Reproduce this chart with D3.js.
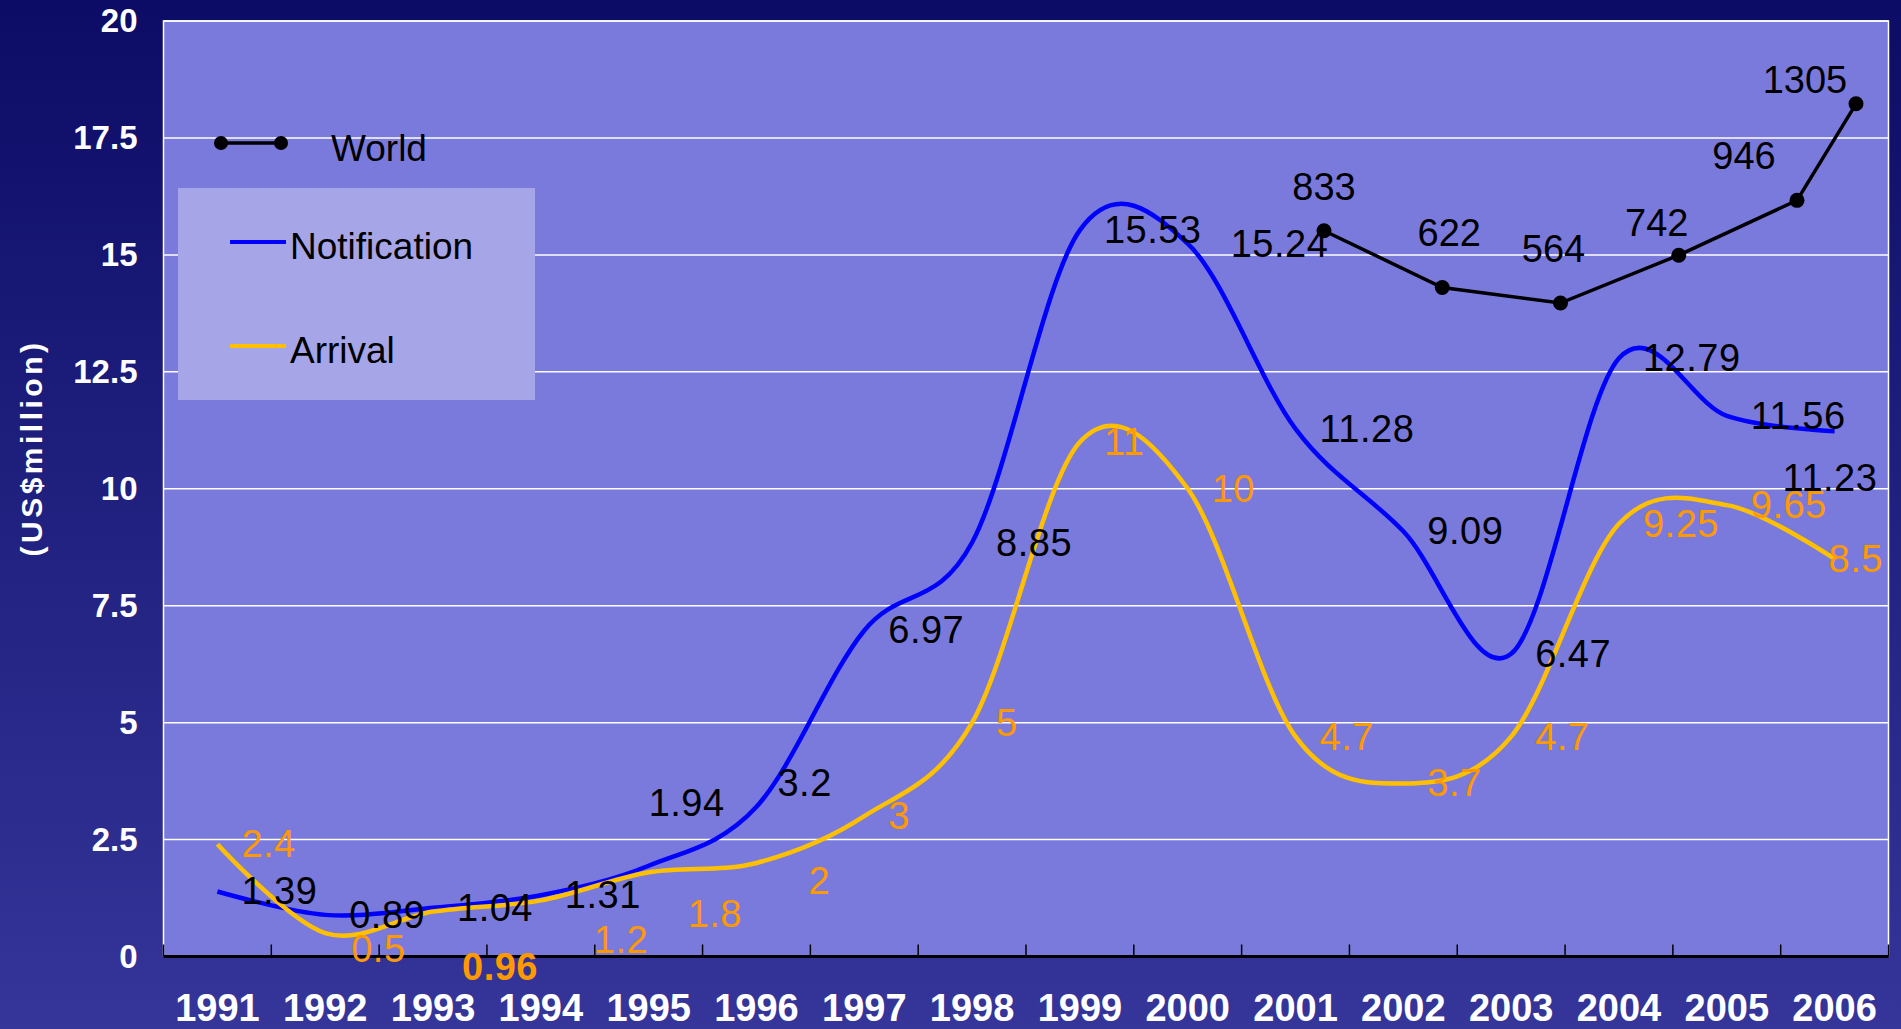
<!DOCTYPE html>
<html>
<head>
<meta charset="utf-8">
<script src="https://cdn.jsdelivr.net/npm/d3@7"></script>
<style>
html, body { margin: 0; padding: 0; overflow: hidden; background: #0c0c66; }
text { font-family: "Liberation Sans", Arial, sans-serif; }
</style>
</head>
<body>
<div id="chart"></div>
<script>
// Set up conventions
let width = 1901;
let height = 1029;
let plot = ({top: 21, right: 1888.5, bottom: 956.5, left: 163.5});

// data
let years = [1991, 1992, 1993, 1994, 1995, 1996, 1997, 1998, 1999, 2000, 2001, 2002, 2003, 2004, 2005, 2006];
let notification = [1.39, 0.89, 1.04, 1.31, 1.94, 3.2, 6.97, 8.85, 15.53, 15.24, 11.28, 9.09, 6.47, 12.79, 11.56, 11.23];
let arrival = [2.4, 0.5, 0.96, 1.2, 1.8, 2, 3, 5, 11, 10, 4.7, 3.7, 4.7, 9.25, 9.65, 8.5];
let worldYears = [2001, 2002, 2003, 2004, 2005, 2006];
let world = [833, 622, 564, 742, 946, 1305];
let yTicks = [0, 2.5, 5, 7.5, 10, 12.5, 15, 17.5, 20];

// hand placed labels in the original: offsets from the default spot
let notifNudge = {1995: [-24, -63], 1996: [-3, -24], 2000: [19, 0], 2006: [-76, 47]};
let arrivalNudge = {1992: [2, 16], 1993: [5, 55], 1994: [29, 40], 1995: [15, 42], 1996: [28, 18], 2006: [-30, 0]};
let worldNudge = {2002: [7, -10], 2003: [-7, -10], 2004: [-22, 12], 2005: [-53, 0], 2006: [-51, 20]};

let svg = d3.select("#chart")
    .append("svg")
    .attr("width", width)
    .attr("height", height);

let grad = svg.append("defs").append("linearGradient")
    .attr("id", "bg")
    .attr("x1", 0).attr("y1", 0).attr("x2", 0).attr("y2", 1);
grad.append("stop").attr("offset", "0%").attr("stop-color", "#0c0c66");
grad.append("stop").attr("offset", "100%").attr("stop-color", "#35359a");

svg.append("rect")
    .attr("width", width)
    .attr("height", height)
    .attr("fill", "url(#bg)");

// scales
let xScale = d3.scaleBand()
    .domain(years)
    .range([plot.left, plot.right]);
let cx = d => xScale(d) + xScale.bandwidth() / 2;

let yScale = d3.scaleLinear()
    .domain([0, 20])
    .range([plot.bottom, plot.top]);

// the World line was pasted on with its own spacing
let worldX = d3.scaleLinear()
    .domain([2001, 2005, 2006])
    .range([1324, 1797, 1856]);
let worldY = d3.scaleLinear()
    .domain([564, 1305])
    .range([yScale(13.97), yScale(18.23)]);

// plot area
svg.append("rect")
    .attr("x", plot.left)
    .attr("y", plot.top)
    .attr("width", plot.right - plot.left)
    .attr("height", plot.bottom - plot.top)
    .attr("fill", "#7a7adc");

svg.append("g")
    .selectAll("line")
    .data(yTicks.filter(d => d > 0))
    .enter()
    .append("line")
    .attr("x1", plot.left)
    .attr("x2", plot.right)
    .attr("y1", d => yScale(d))
    .attr("y2", d => yScale(d))
    .attr("stroke", "white")
    .attr("stroke-width", 1.5);

svg.append("path")
    .attr("d", `M${plot.left},${plot.bottom}V${plot.top}H${plot.right}V${plot.bottom}`)
    .attr("fill", "none")
    .attr("stroke", "white")
    .attr("stroke-width", 1.5);

// y axis
let yAxis = d3.axisLeft(yScale).tickValues(yTicks).tickFormat(d => d).tickSize(0).tickPadding(26);
svg.append("g")
    .attr("class", "yaxis")
    .attr("transform", "translate(" + plot.left + ",0)")
    .call(yAxis)
    .call(g => g.select(".domain").remove())
    .selectAll("text")
    .attr("fill", "white")
    .attr("font-size", 33)
    .attr("font-weight", "bold")
    .attr("font-family", "Liberation Sans, Arial, sans-serif");

svg.append("text")
    .attr("transform", "translate(31,448) rotate(-90)")
    .attr("text-anchor", "middle")
    .attr("dominant-baseline", "central")
    .attr("fill", "white")
    .attr("font-size", 30)
    .attr("font-weight", "bold")
    .attr("letter-spacing", 3.5)
    .text("(US$million)");

// x axis
let xAxis = d3.axisBottom(xScale).tickSize(0).tickPadding(38);
svg.append("g")
    .attr("class", "axes")
    .attr("transform", "translate(0," + plot.bottom + ")")
    .call(xAxis)
    .call(g => g.select(".domain").remove())
    .selectAll("text")
    .attr("fill", "white")
    .attr("font-size", 38)
    .attr("font-weight", "bold")
    .attr("font-family", "Liberation Sans, Arial, sans-serif");

svg.append("g")
    .selectAll("line")
    .data(years.concat([null]))
    .enter()
    .append("line")
    .attr("x1", d => d === null ? plot.right : xScale(d))
    .attr("x2", d => d === null ? plot.right : xScale(d))
    .attr("y1", plot.bottom - 12)
    .attr("y2", plot.bottom)
    .attr("stroke", "black")
    .attr("stroke-width", 1.5);

svg.append("line")
    .attr("x1", plot.left)
    .attr("x2", plot.right)
    .attr("y1", plot.bottom)
    .attr("y2", plot.bottom)
    .attr("stroke", "black")
    .attr("stroke-width", 3);

// legend box
svg.append("rect")
    .attr("x", 178)
    .attr("y", 188)
    .attr("width", 357)
    .attr("height", 212)
    .attr("fill", "#a5a5e7");

// smoothed series lines
let line = d3.line()
    .curve(d3.curveCardinal.tension(0))
    .x((d, i) => cx(years[i]))
    .y(d => yScale(d));

svg.append("path")
    .datum(notification)
    .attr("d", line)
    .attr("fill", "none")
    .attr("stroke", "#0000ff")
    .attr("stroke-width", 4.5);

svg.append("path")
    .datum(arrival)
    .attr("d", line)
    .attr("fill", "none")
    .attr("stroke", "#ffc000")
    .attr("stroke-width", 4.5);

// World line
let worldLine = d3.line()
    .x((d, i) => worldX(worldYears[i]))
    .y(d => worldY(d));

svg.append("path")
    .datum(world)
    .attr("d", worldLine)
    .attr("fill", "none")
    .attr("stroke", "black")
    .attr("stroke-width", 3.5);

svg.append("g")
    .selectAll("circle")
    .data(world)
    .enter()
    .append("circle")
    .attr("cx", (d, i) => worldX(worldYears[i]))
    .attr("cy", d => worldY(d))
    .attr("r", 7.5)
    .attr("fill", "black");

// value labels
function seriesLabels(values, color, nudge, bold) {
    svg.append("g")
        .selectAll("text")
        .data(values)
        .enter()
        .append("text")
        .attr("x", (d, i) => cx(years[i]) + 24 + (nudge[years[i]] ? nudge[years[i]][0] : 0))
        .attr("y", (d, i) => yScale(d) + (nudge[years[i]] ? nudge[years[i]][1] : 0))
        .attr("dominant-baseline", "central")
        .attr("font-size", 38)
        .attr("font-weight", (d, i) => bold.includes(years[i]) ? "bold" : "normal")
        .attr("letter-spacing", 0.5)
        .attr("fill", color)
        .text(d => d);
}
seriesLabels(notification, "black", notifNudge, []);
seriesLabels(arrival, "#ff9900", arrivalNudge, [1993]);

svg.append("g")
    .selectAll("text")
    .data(world)
    .enter()
    .append("text")
    .attr("x", (d, i) => worldX(worldYears[i]) + (worldNudge[worldYears[i]] ? worldNudge[worldYears[i]][0] : 0))
    .attr("y", (d, i) => worldY(d) - 44 + (worldNudge[worldYears[i]] ? worldNudge[worldYears[i]][1] : 0))
    .attr("text-anchor", "middle")
    .attr("dominant-baseline", "central")
    .attr("font-size", 38)
    .attr("fill", "black")
    .text(d => d);

// legend entries
svg.append("line")
    .attr("x1", 221).attr("x2", 281)
    .attr("y1", 143).attr("y2", 143)
    .attr("stroke", "black")
    .attr("stroke-width", 3.5);
svg.append("g")
    .selectAll("circle")
    .data([221, 281])
    .enter()
    .append("circle")
    .attr("cx", d => d)
    .attr("cy", 143)
    .attr("r", 7)
    .attr("fill", "black");
svg.append("text")
    .attr("x", 331).attr("y", 161)
    .attr("font-size", 37)
    .attr("fill", "black")
    .text("World");

let legendItems = [["Notification", "#0000ff", 242], ["Arrival", "#ffc000", 346]];
legendItems.forEach(item => {
    svg.append("line")
        .attr("x1", 230).attr("x2", 286)
        .attr("y1", item[2]).attr("y2", item[2])
        .attr("stroke", item[1])
        .attr("stroke-width", 4);
    svg.append("text")
        .attr("x", 290).attr("y", item[2] + 17)
        .attr("font-size", 37)
        .attr("fill", "black")
        .text(item[0]);
});
</script>
</body>
</html>
